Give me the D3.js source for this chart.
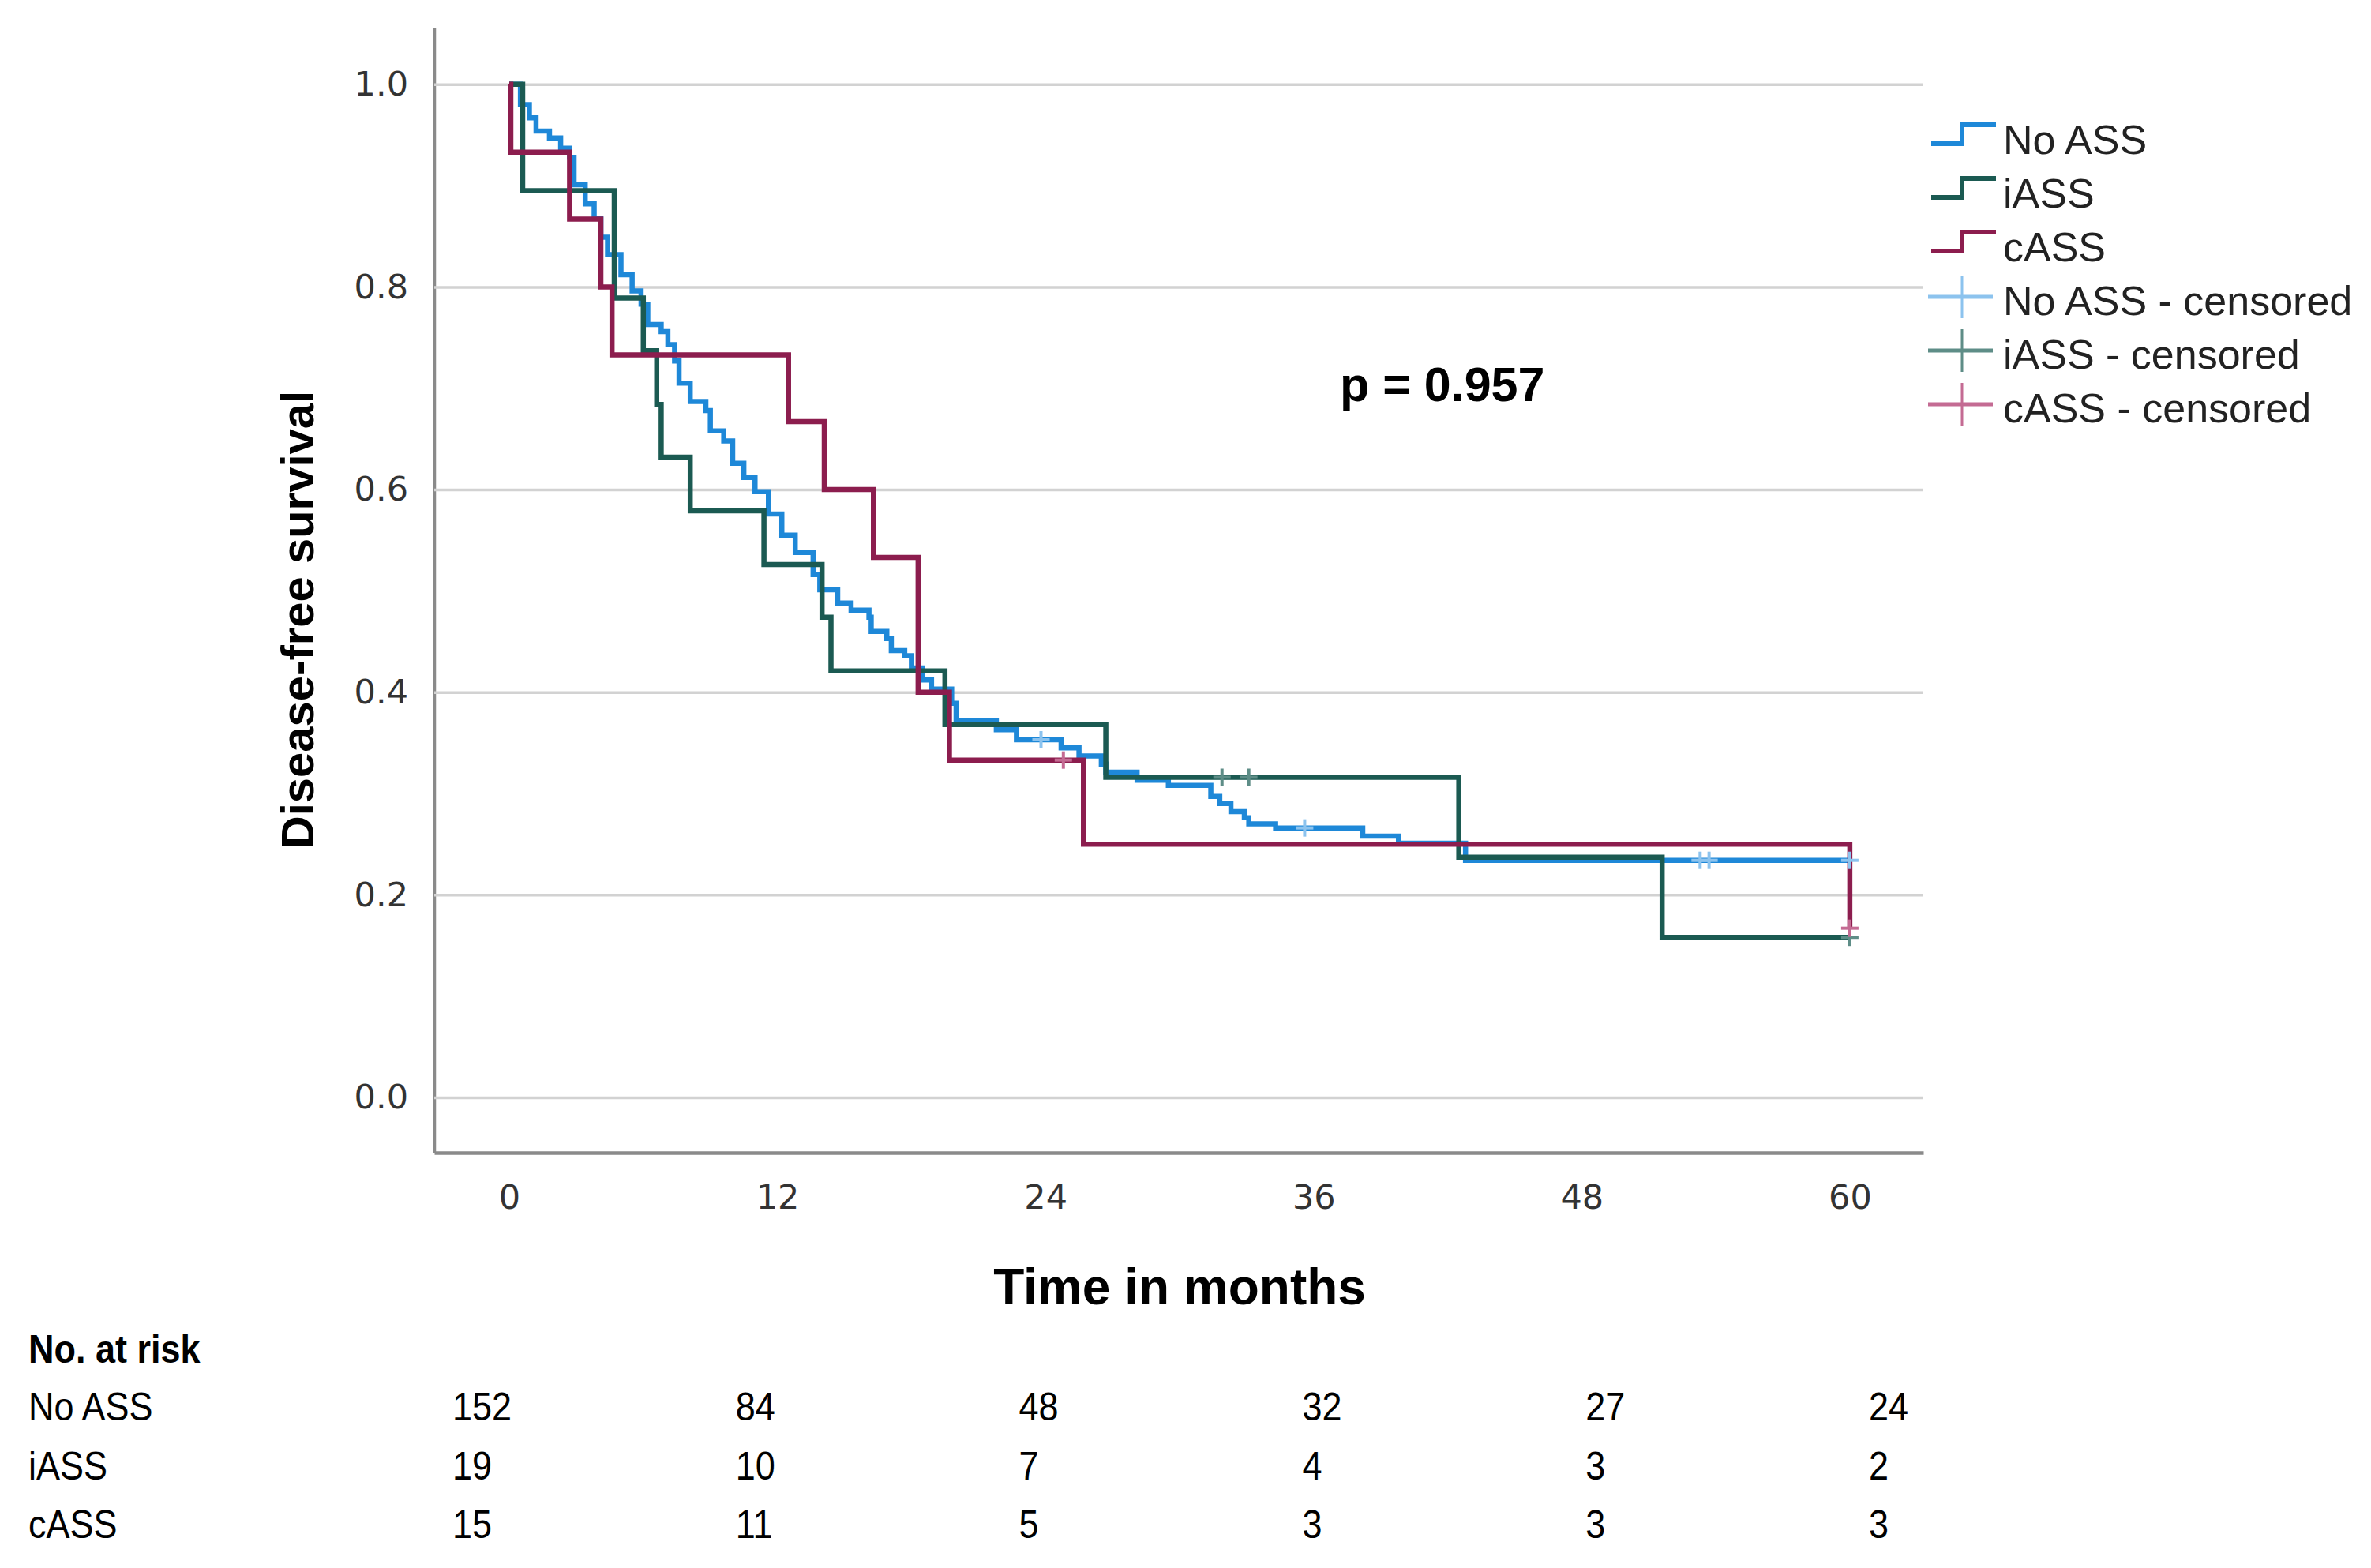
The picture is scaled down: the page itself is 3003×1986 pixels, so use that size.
<!DOCTYPE html>
<html>
<head>
<meta charset="utf-8">
<script src="https://cdn.jsdelivr.net/npm/d3@7"></script>
<style>
  body { margin: 0; background: #fff; }
  .tick text { font-family: "DejaVu Sans", sans-serif; font-size: 43px; fill: #333; }
  .table-text { font-family: "Liberation Sans Narrow", "Liberation Sans", sans-serif; font-size: 50px; fill: #000; }
</style>
</head>
<body>
<div id="d3-container"></div>
<script>
/* CONSTANTS AND GLOBALS */
const width = 3003,
  height = 1986;

const groups = ["No ASS", "iASS", "cASS"];
const colors = ["#1e88d8", "#1b5a52", "#8c1d4e"];
const censorColors = ["#8cc3ee", "#5e8d87", "#c46b93"];

// Kaplan-Meier steps (time in months, survival)
const noAssTimes = [0, 0.5, 0.9, 1.2, 1.8, 2.3, 2.7, 2.9, 3.4, 3.8, 4.1, 4.4, 5.0, 5.5, 5.9, 6.2, 6.8, 7.1, 7.4, 7.6,
  8.1, 8.8, 9.0, 9.6, 10.0, 10.5, 11.0, 11.6, 12.2, 12.8, 13.6, 13.9, 14.7, 15.3, 16.1, 16.2, 16.9, 17.1, 17.7, 18.0,
  18.5, 18.9, 19.8, 20.0, 21.8, 22.7, 24.7, 25.5, 26.5, 26.7, 28.1, 29.5, 31.4, 31.8, 32.3, 32.9, 33.1, 34.3, 38.2, 39.8,
  42.8, 60];
const noAssSurv = [1, 0.980, 0.967, 0.954, 0.947, 0.937, 0.928, 0.901, 0.882, 0.868, 0.849, 0.832, 0.812, 0.796, 0.783, 0.763, 0.756, 0.743, 0.727, 0.705,
  0.687, 0.678, 0.658, 0.648, 0.626, 0.612, 0.598, 0.576, 0.555, 0.538, 0.516, 0.501, 0.488, 0.481, 0.474, 0.460, 0.453, 0.441, 0.436, 0.424,
  0.412, 0.403, 0.389, 0.372, 0.363, 0.353, 0.345, 0.337, 0.329, 0.321, 0.313, 0.308, 0.297, 0.290, 0.282, 0.276, 0.270, 0.266, 0.258, 0.251,
  0.234, 0.234];
const noAssCensored = [23.8, 35.6, 53.3, 53.7, 60];

const iAssTimes = [0, 0.6, 4.7, 6.0, 6.6, 6.8, 8.1, 11.4, 14.0, 14.4, 19.5, 26.7, 42.5, 51.6, 60];
const iAssSurv = [1, 0.895, 0.789, 0.737, 0.684, 0.632, 0.579, 0.526, 0.474, 0.421, 0.368, 0.316, 0.237, 0.158, 0.158];
const iAssCensored = [31.9, 33.1, 60];

const cAssTimes = [0, 0.07, 2.7, 4.1, 4.6, 12.5, 14.1, 16.3, 18.3, 19.7, 25.7, 60];
const cAssSurv = [1, 0.933, 0.867, 0.8, 0.733, 0.667, 0.6, 0.533, 0.4, 0.333, 0.25, 0.167];
const cAssCensored = [24.8, 60];

// number at risk table
const months = [0, 12, 24, 36, 48, 60];
const atRiskNoAss = [152, 84, 48, 32, 27, 24];
const atRiskIAss = [19, 10, 7, 4, 3, 2];
const atRiskCAss = [15, 11, 5, 3, 3, 3];

const yTicks = [0, 0.2, 0.4, 0.6, 0.8, 1.0];
const pLabel = "p = 0.957";

let svg, xScale, yScale;

init();

function survAt(times, surv, t) {
  return surv[d3.bisectRight(times, t) - 1];
}

/* INITIALIZING FUNCTION */
function init() {
  // x: 0 -> 645px, 60 -> 2343px ; axis runs a little past both ends
  xScale = d3.scaleLinear().domain([-3.357, 63.29]).range([550, 2436]);
  yScale = d3.scaleLinear().domain([-0.0546, 1.056]).range([1460, 35]);

  svg = d3.select("#d3-container")
    .append("svg")
    .attr("width", width)
    .attr("height", height)
    .style("background", "#fff");

  // + GRID AND Y AXIS
  const yAxis = d3.axisLeft(yScale)
    .tickValues(yTicks)
    .tickFormat(d3.format(".1f"))
    .tickSize(-(2436 - 550))
    .tickSizeOuter(0)
    .tickPadding(33);

  const gy = svg.append("g")
    .attr("class", "axis y-axis")
    .attr("transform", "translate(550,0)")
    .call(yAxis);
  gy.selectAll(".tick line").attr("stroke", "#d2d2d2").attr("stroke-width", 3.5);
  gy.select(".domain").attr("stroke", "#8a8a8a").attr("stroke-width", 3.5);

  // + X AXIS
  const xAxis = d3.axisBottom(xScale)
    .tickValues(months)
    .tickSize(0)
    .tickSizeOuter(0)
    .tickPadding(40);

  const gx = svg.append("g")
    .attr("class", "axis x-axis")
    .attr("transform", "translate(0,1460)")
    .call(xAxis);
  gx.select(".domain").attr("stroke", "#8a8a8a").attr("stroke-width", 4.5);

  // axis titles
  svg.append("text")
    .attr("transform", "translate(397,785) rotate(-90)")
    .attr("text-anchor", "middle")
    .style("font-family", "Liberation Sans, Arial, sans-serif")
    .style("font-weight", "bold")
    .style("font-size", "58px")
    .text("Disease-free survival");

  svg.append("text")
    .attr("x", 1494)
    .attr("y", 1652)
    .attr("text-anchor", "middle")
    .style("font-family", "Liberation Sans, Arial, sans-serif")
    .style("font-weight", "bold")
    .style("font-size", "64px")
    .text("Time in months");

  svg.append("text")
    .attr("x", 1697)
    .attr("y", 508)
    .style("font-family", "Liberation Sans, Arial, sans-serif")
    .style("font-weight", "bold")
    .style("font-size", "61px")
    .text(pLabel);

  draw();
  drawLegend();
  drawTable();
}

/* DRAW FUNCTION */
function draw() {
  const series = [
    { name: groups[0], times: noAssTimes, surv: noAssSurv, cens: noAssCensored },
    { name: groups[1], times: iAssTimes, surv: iAssSurv, cens: iAssCensored },
    { name: groups[2], times: cAssTimes, surv: cAssSurv, cens: cAssCensored }
  ];

  const line = d3.line()
    .x(d => xScale(d[0]))
    .y(d => yScale(d[1]))
    .curve(d3.curveStepAfter);

  svg.selectAll(".km")
    .data(series)
    .join("path")
    .attr("class", "km")
    .attr("fill", "none")
    .attr("stroke", (d, i) => colors[i])
    .attr("stroke-width", 6.5)
    .attr("d", d => line(d.times.map((t, i) => [t, d.surv[i]])));

  // censor marks
  series.forEach((s, i) => {
    const g = svg.append("g").attr("class", "censor");
    const pts = s.cens.map(t => [t, survAt(s.times, s.surv, t)]);
    g.selectAll(".cv")
      .data(pts)
      .join("line")
      .attr("x1", d => xScale(d[0]))
      .attr("x2", d => xScale(d[0]))
      .attr("y1", d => yScale(d[1]) - 11)
      .attr("y2", d => yScale(d[1]) + 11)
      .attr("stroke", censorColors[i])
      .attr("stroke-width", 4);
    g.selectAll(".ch")
      .data(pts)
      .join("line")
      .attr("x1", d => xScale(d[0]) - 11)
      .attr("x2", d => xScale(d[0]) + 11)
      .attr("y1", d => yScale(d[1]))
      .attr("y2", d => yScale(d[1]))
      .attr("stroke", censorColors[i])
      .attr("stroke-width", 4);
  });
}

function drawLegend() {
  const rowY = d3.scaleLinear().domain([0, 1]).range([195, 263]);
  const labels = groups.concat(groups.map(g => g + " - censored"));

  const rows = svg.append("g")
    .attr("class", "legend")
    .selectAll("g")
    .data(labels)
    .join("g")
    .attr("transform", (d, i) => `translate(0,${rowY(i)})`);

  rows.append("text")
    .attr("x", 2537)
    .attr("y", 0)
    .style("font-family", "Liberation Sans, Arial, sans-serif")
    .style("font-size", "52px")
    .attr("fill", "#222")
    .text(d => d);

  rows.filter((d, i) => i < 3)
    .append("path")
    .attr("fill", "none")
    .attr("stroke", (d, i) => colors[i])
    .attr("stroke-width", 6)
    .attr("d", "M2446,-13H2485V-37H2528");

  const cens = rows.filter((d, i) => i >= 3);
  cens.append("line")
    .attr("x1", 2442).attr("x2", 2524)
    .attr("y1", -23).attr("y2", -23)
    .attr("stroke", (d, i) => censorColors[i])
    .attr("stroke-width", 5);
  cens.append("line")
    .attr("x1", 2485).attr("x2", 2485)
    .attr("y1", -50).attr("y2", 4)
    .attr("stroke", (d, i) => censorColors[i])
    .attr("stroke-width", 3);
}

function drawTable() {
  const colX = d3.scalePoint().domain(months).range([573, 2367]);
  const rows = [
    { name: groups[0], values: atRiskNoAss },
    { name: groups[1], values: atRiskIAss },
    { name: groups[2], values: atRiskCAss }
  ];
  const rowY = d3.scalePoint().domain(groups).range([1799, 1948]);

  // narrow the text a bit, the original uses a condensed face
  const narrow = (x, y) => `translate(${x},${y}) scale(0.9,1)`;

  svg.append("text")
    .attr("class", "table-text")
    .attr("transform", narrow(36, 1726))
    .style("font-weight", "bold")
    .text("No. at risk");

  const g = svg.append("g").attr("class", "risk-table");
  rows.forEach(r => {
    g.append("text")
      .attr("class", "table-text")
      .attr("transform", narrow(36, rowY(r.name)))
      .text(r.name);
    g.selectAll(null)
      .data(r.values)
      .join("text")
      .attr("class", "table-text")
      .attr("transform", (d, i) => narrow(colX(months[i]), rowY(r.name)))
      .text(d => d);
  });
}
</script>
</body>
</html>
